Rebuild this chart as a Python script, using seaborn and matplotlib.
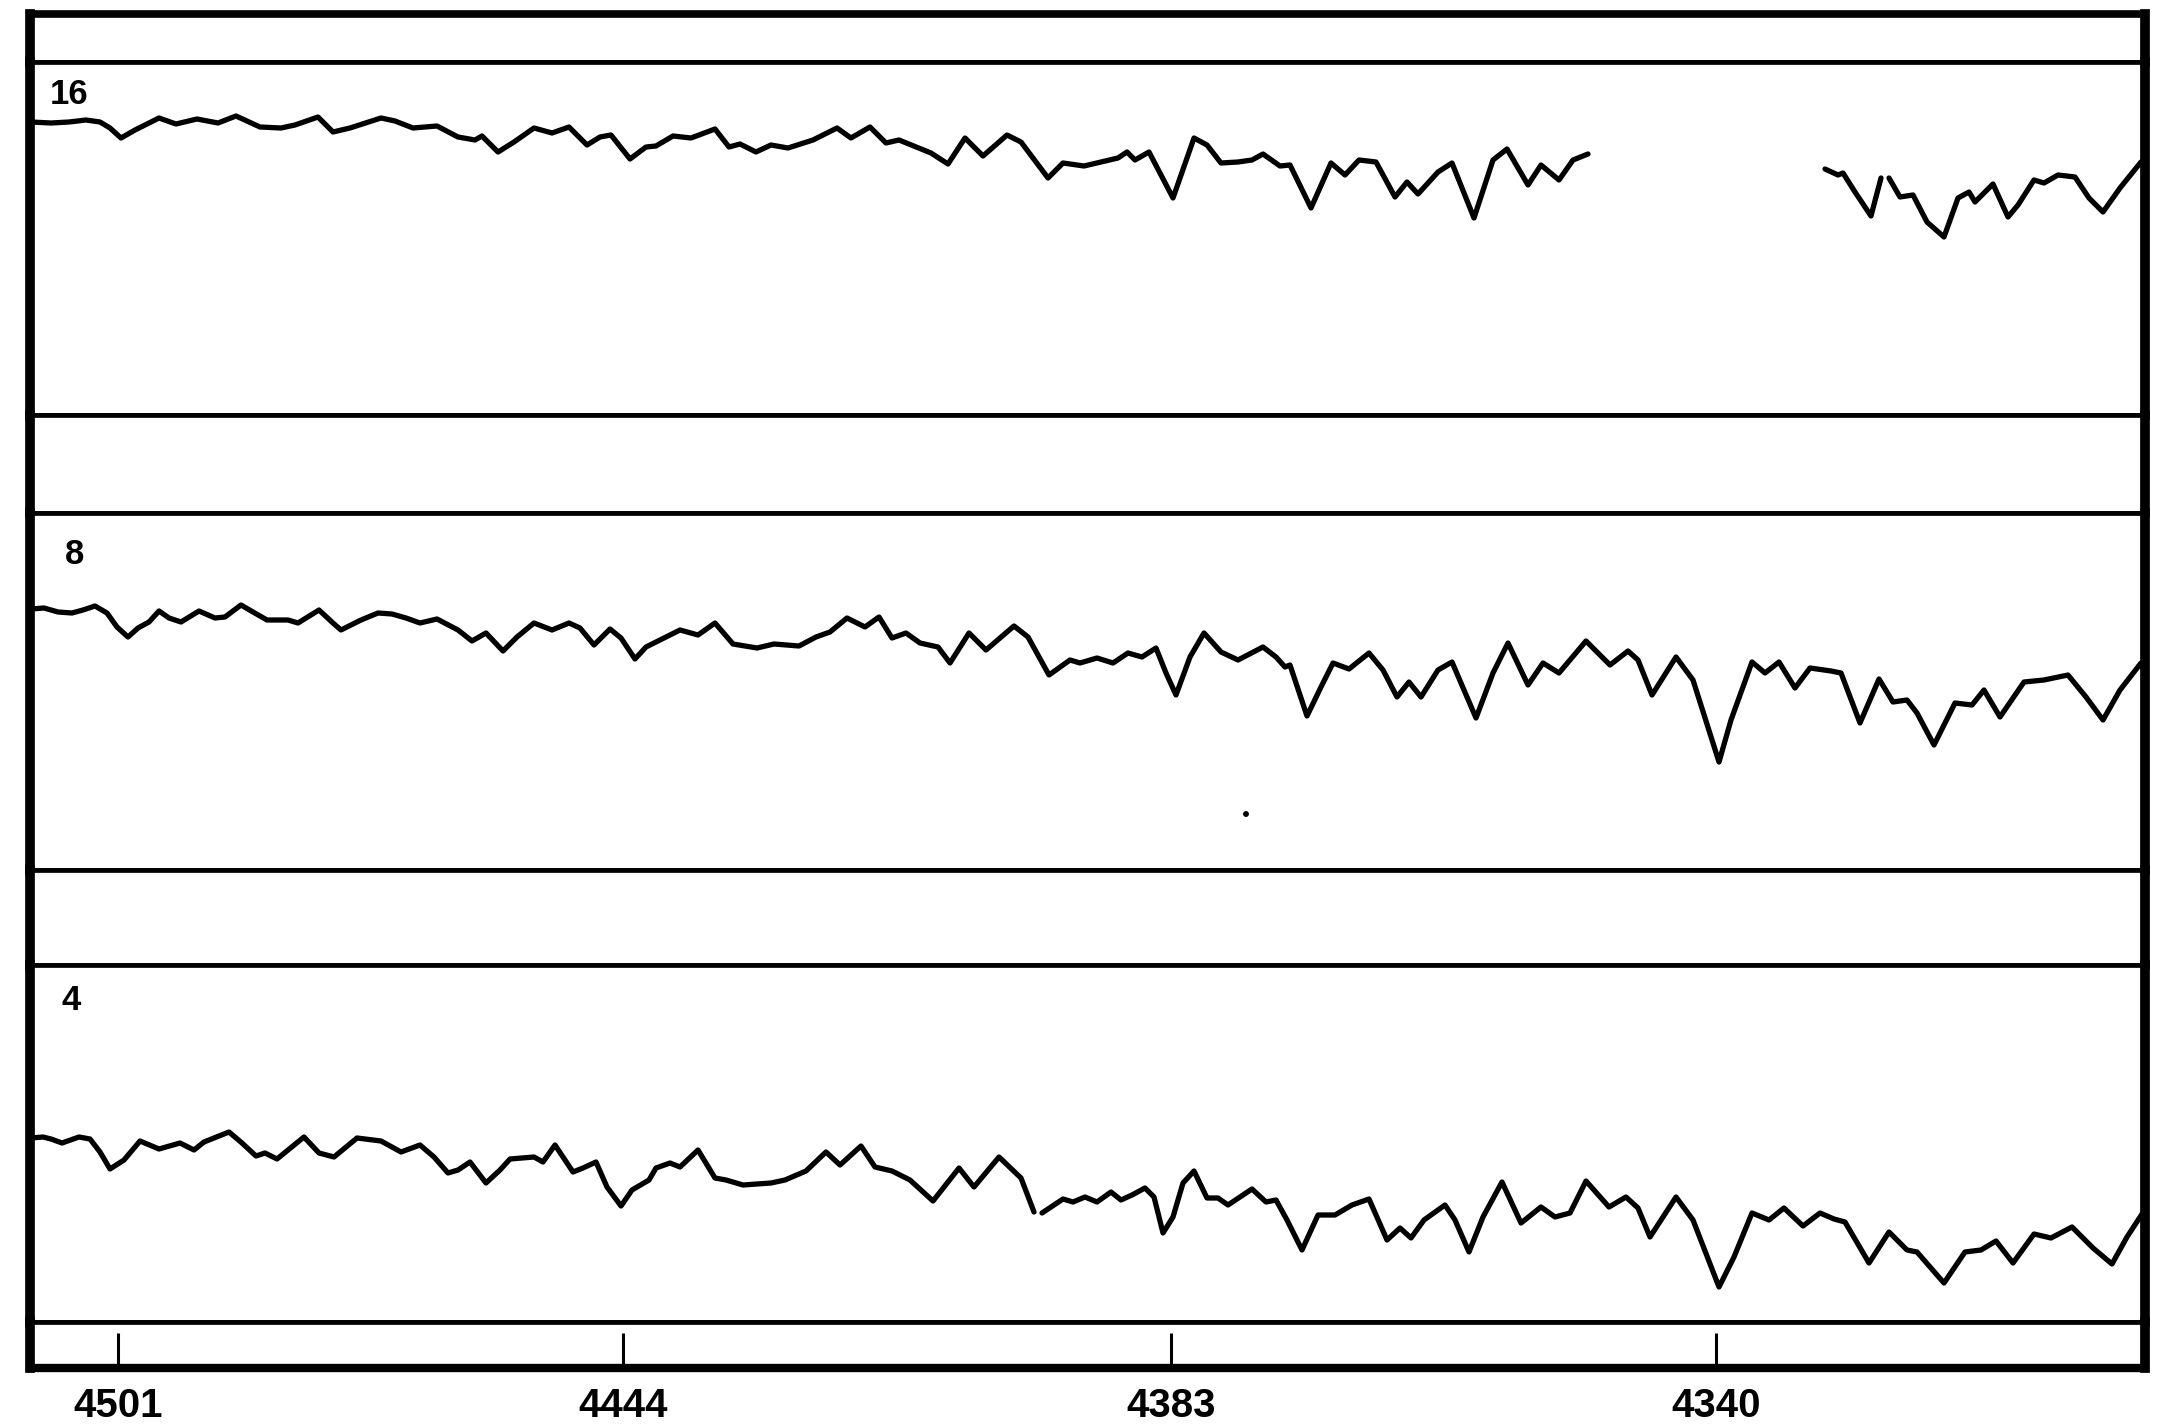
import numpy as np
import pandas as pd
import matplotlib
matplotlib.use("Agg")
import matplotlib.pyplot as plt
import seaborn as sns
from matplotlib import font_manager

sns.set_theme(style="white")
_names = {f.name for f in font_manager.fontManager.ttflist}
FONT = "Liberation Sans" if "Liberation Sans" in _names else "DejaVu Sans"
plt.rcParams["font.family"] = [FONT, "DejaVu Sans"]

# ---------------- data (plate position, relative intensity) ----------------
tick_pos = [118, 623, 1171, 1716]
tick_labels = ["4501", "4444", "4383", "4340"]
panel_labels = ["16", "8", "4"]

# trace "16" - first part
t16a_pos = [31, 51, 69, 86, 100, 110, 121, 135, 159, 176, 197, 218, 236, 260, 281,
            295, 318, 333, 350, 381, 395, 413, 437, 458, 475, 482, 498, 514, 534, 552,
            569, 587, 600, 611, 630, 646, 656, 673, 691, 715, 729, 740, 756, 771, 788,
            813, 837, 851, 870, 886, 899, 931, 948, 965, 983, 1007, 1021, 1048, 1063, 1084,
            1101, 1118, 1127, 1135, 1149, 1173, 1194, 1207, 1221, 1238, 1252, 1263, 1280, 1290, 1311,
            1331, 1345, 1359, 1376, 1395, 1407, 1418, 1438, 1452, 1474, 1493, 1507, 1528, 1541, 1559,
            1573, 1588]
t16a_val = [293, 292, 293, 295, 293, 287, 277, 285, 297, 291, 296, 292, 299, 288, 287,
            290, 298, 283, 287, 297, 294, 287, 289, 278, 275, 279, 263, 273, 287, 282,
            288, 270, 278, 280, 256, 268, 269, 279, 277, 286, 268, 271, 263, 270, 267,
            275, 287, 277, 288, 272, 275, 262, 251, 277, 259, 280, 273, 237, 252, 249,
            253, 257, 263, 255, 263, 217, 277, 270, 252, 253, 255, 261, 249, 250, 207,
            252, 240, 255, 253, 218, 233, 221, 243, 252, 197, 255, 266, 230, 250, 235,
            255, 261]
# trace "16" - second part (two strokes)
t16b_pos = [1825, 1838, 1843, 1855, 1871, 1881]
t16b_val = [246, 240, 242, 223, 199, 237]
t16c_pos = [1889, 1900, 1913, 1927, 1944, 1958, 1969, 1975, 1993, 2008, 2018, 2034, 2044,
            2058, 2075, 2089, 2103, 2120, 2141]
t16c_val = [237, 218, 220, 193, 178, 217, 223, 213, 231, 198, 210, 235, 232,
            240, 238, 217, 203, 227, 253]

# trace "8"
t8_pos = [31, 44, 58, 72, 83, 95, 107, 117, 128, 138, 149, 159, 169, 181, 199,
          215, 225, 241, 253, 267, 288, 298, 319, 333, 341, 361, 378, 392, 406, 420,
          437, 458, 472, 486, 503, 517, 534, 552, 569, 580, 594, 610, 621, 635, 646,
          660, 680, 698, 715, 733, 757, 774, 799, 816, 830, 847, 865, 879, 892, 906,
          920, 938, 950, 969, 986, 1014, 1028, 1049, 1070, 1080, 1097, 1113, 1128, 1142, 1156,
          1166, 1176, 1190, 1204, 1221, 1238, 1263, 1276, 1285, 1290, 1307, 1321, 1333, 1349, 1369,
          1383, 1397, 1409, 1421, 1438, 1452, 1476, 1493, 1508, 1528, 1543, 1559, 1570, 1586, 1610,
          1628, 1638, 1652, 1676, 1693, 1719, 1731, 1752, 1765, 1779, 1795, 1810, 1831, 1841, 1860,
          1879, 1893, 1907, 1917, 1934, 1955, 1972, 1984, 2000, 2024, 2044, 2068, 2086, 2103, 2120,
          2141]
t8_val = [261, 262, 258, 257, 260, 264, 257, 243, 233, 242, 248, 259, 252, 248, 259,
          252, 253, 265, 258, 250, 250, 247, 260, 247, 240, 250, 257, 256, 252, 247,
          251, 240, 229, 237, 219, 233, 247, 240, 247, 242, 225, 241, 232, 211, 223,
          230, 240, 235, 247, 226, 222, 226, 224, 233, 238, 252, 243, 253, 232, 237,
          227, 223, 207, 237, 220, 244, 233, 195, 210, 207, 212, 207, 217, 213, 222,
          197, 175, 213, 237, 218, 210, 223, 213, 203, 205, 154, 183, 207, 201, 217,
          200, 173, 188, 173, 200, 208, 152, 197, 227, 185, 207, 197, 210, 229, 205,
          219, 210, 175, 213, 190, 108, 150, 208, 197, 208, 182, 202, 199, 197, 147,
          191, 168, 170, 157, 125, 167, 165, 180, 153, 188, 190, 195, 173, 150, 180,
          207]
speck_pos = [1246]
speck_val = [56]

# trace "4" - first part
t4a_pos = [31, 43, 51, 62, 79, 90, 100, 110, 124, 140, 159, 180, 194, 204, 229,
           242, 256, 265, 277, 304, 319, 334, 357, 381, 401, 420, 434, 448, 458, 470,
           486, 500, 510, 534, 543, 555, 573, 583, 596, 607, 621, 632, 649, 656, 670,
           680, 698, 715, 726, 743, 771, 785, 806, 826, 840, 861, 875, 892, 910, 933,
           959, 974, 999, 1021, 1034]
t4a_val = [184, 185, 183, 179, 185, 183, 170, 153, 162, 181, 173, 179, 172, 180, 190,
           179, 166, 169, 163, 185, 169, 165, 184, 181, 170, 177, 165, 149, 152, 160,
           139, 152, 163, 165, 160, 177, 150, 154, 160, 135, 116, 132, 142, 154, 159,
           155, 172, 144, 142, 137, 139, 142, 151, 170, 157, 176, 155, 151, 142, 121,
           154, 135, 165, 144, 110]
# trace "4" - second part
t4b_pos = [1042, 1063, 1073, 1085, 1097, 1111, 1121, 1132, 1145, 1154, 1163, 1173, 1183, 1194, 1207,
           1218, 1228, 1252, 1266, 1276, 1287, 1302, 1318, 1335, 1352, 1369, 1387, 1400, 1411, 1424,
           1445, 1455, 1469, 1483, 1502, 1521, 1541, 1555, 1570, 1586, 1609, 1626, 1638, 1650, 1676,
           1693, 1719, 1734, 1752, 1769, 1784, 1803, 1820, 1834, 1845, 1869, 1889, 1907, 1917, 1944,
           1965, 1981, 1996, 2013, 2034, 2051, 2072, 2093, 2112, 2127, 2144]
t4b_val = [109, 123, 120, 125, 120, 130, 122, 127, 134, 125, 89, 105, 139, 151, 124,
           124, 117, 133, 120, 122, 102, 72, 107, 107, 117, 123, 82, 94, 84, 102,
           117, 102, 70, 105, 140, 99, 115, 105, 109, 141, 115, 125, 114, 85, 125,
           102, 35, 65, 109, 102, 114, 96, 109, 103, 100, 59, 90, 72, 70, 39,
           70, 72, 81, 59, 88, 84, 95, 74, 58, 85, 111]


def frame(segments):
    parts = []
    for i, (p, v) in enumerate(segments):
        parts.append(pd.DataFrame({"pos": p, "val": v, "seg": i}))
    return pd.concat(parts, ignore_index=True)


df16 = frame([(t16a_pos, t16a_val), (t16b_pos, t16b_val), (t16c_pos, t16c_val)])
df8 = frame([(t8_pos, t8_val)])
df4 = frame([(t4a_pos, t4a_val), (t4b_pos, t4b_val)])

# ---------------- layout ----------------
W, H = 2170, 1427
fig = plt.figure(figsize=(W / 100, H / 100), dpi=100)
fig.patch.set_facecolor("white")
rows = [48, 353, 98, 357, 95, 357, 46]
gs = fig.add_gridspec(len(rows), 1, height_ratios=rows, hspace=0,
                      left=30 / W, right=2145 / W, top=1 - 14 / H, bottom=1 - 1368 / H)
axes = [fig.add_subplot(gs[i]) for i in range(len(rows))]

XMIN, XMAX = 30, 2145
INNER_LW = 3.4
OUTER_LW = 7.0
for i, ax in enumerate(axes):
    ax.set_facecolor("white")
    ax.set_xlim(XMIN, XMAX)
    ax.set_yticks([])
    ax.set_xticks([])
    ax.grid(False)
    for s in ax.spines.values():
        s.set_visible(True)
        s.set_color("black")
        s.set_linewidth(INNER_LW)
    ax.spines["left"].set_linewidth(OUTER_LW)
    ax.spines["right"].set_linewidth(OUTER_LW)
axes[0].spines["top"].set_linewidth(5.5)
axes[-1].spines["bottom"].set_linewidth(6.0)

panels = [(axes[1], df16, 353, "16", 320, 50),
          (axes[3], df8, 357, "8", 316, 65),
          (axes[5], df4, 357, "4", 321, 62)]
for ax, df, h, lab, ly, lx in panels:
    sns.lineplot(data=df, x="pos", y="val", units="seg", estimator=None,
                 color="black", linewidth=3.8, ax=ax, legend=False)
    for ln in ax.lines:
        ln.set_solid_joinstyle("round")
        ln.set_solid_capstyle("round")
    ax.set_ylim(0, h)
    ax.set_xlim(XMIN, XMAX)
    ax.set_xlabel("")
    ax.set_ylabel("")
    ax.set_xticks([])
    ax.set_yticks([])
    ax.text(lx, ly, lab, ha="left", va="center", fontsize=25,
            fontweight="bold", color="black")

sns.scatterplot(x=speck_pos, y=speck_val, ax=axes[3], color="black", s=18,
                edgecolor="none", legend=False)
axes[3].set_xticks([])
axes[3].set_yticks([])

# bottom scale band with wavelength ticks
axb = axes[-1]
axb.set_ylim(0, 1)
axb.set_xticks(tick_pos)
axb.set_xticklabels(tick_labels, fontsize=29, fontweight="bold")
axb.tick_params(axis="x", direction="in", length=25, width=2.2, pad=14,
                colors="black", bottom=True, top=False)

fig.savefig("out.png", dpi=100, facecolor="white")
